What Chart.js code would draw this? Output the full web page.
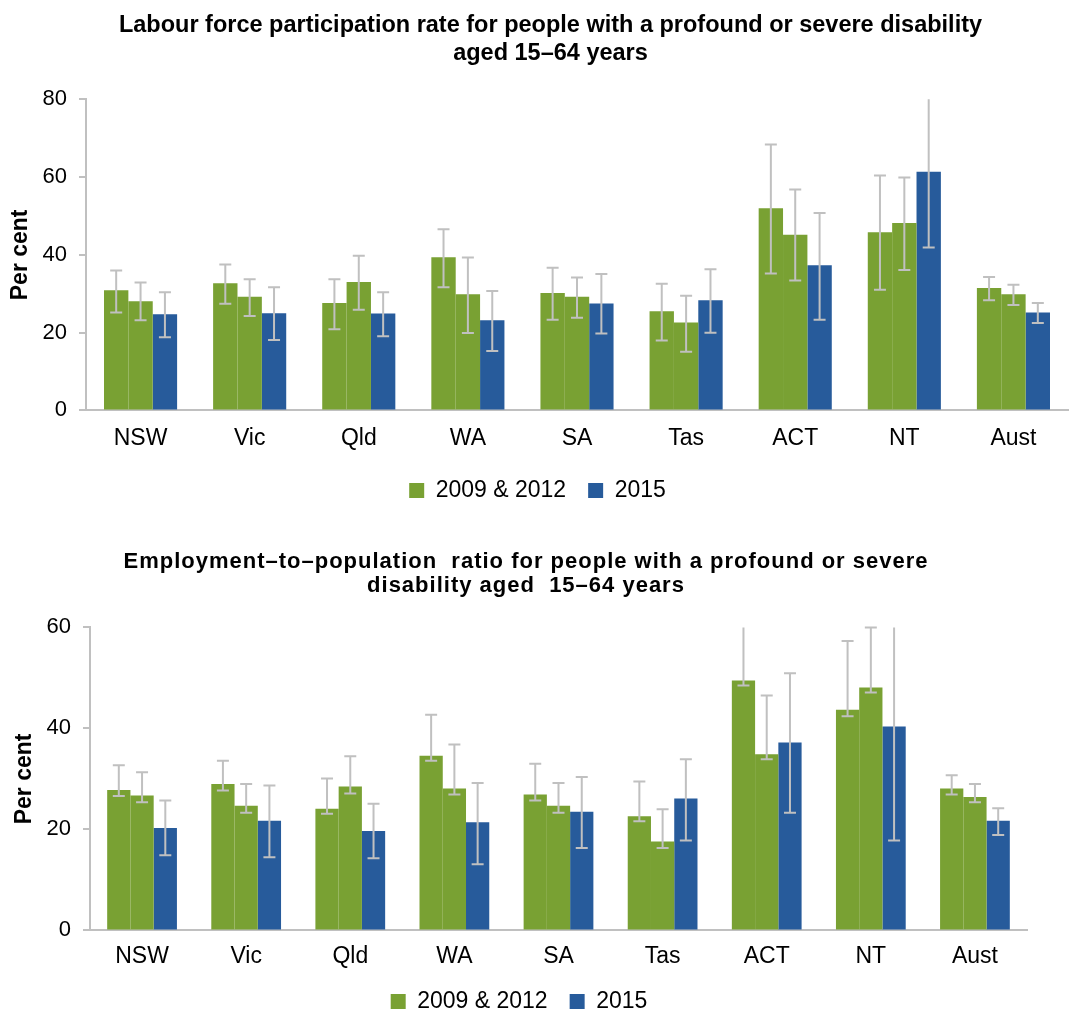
<!DOCTYPE html>
<html>
<head>
<meta charset="utf-8">
<script src="https://cdn.jsdelivr.net/npm/chart.js@4.4.1/dist/chart.umd.min.js"></script>
<style>
  body { margin: 0; background: #fff; overflow: hidden; }
  .box { position: absolute; left: 0; width: 1070px; }
  #box1 { top: 0; height: 524px; }
  #box2 { top: 520px; height: 517px; }
</style>
</head>
<body>
<div class="box" id="box1"><canvas id="chart1"></canvas></div>
<div class="box" id="box2"><canvas id="chart2"></canvas></div>
<script>
const states = ["NSW", "Vic", "Qld", "WA", "SA", "Tas", "ACT", "NT", "Aust"];
const legendLabels = ["2009 & 2012", "2015"];

// labour force participation rate (top chart)
const lfp2009 = [30.9, 32.7, 27.6, 39.4, 30.2, 25.5, 52.0, 45.8, 31.5];
const lfp2009Lo = [25.2, 27.4, 20.9, 31.7, 23.3, 18.0, 35.2, 31.0, 28.3];
const lfp2009Hi = [36.0, 37.5, 33.7, 46.6, 36.7, 32.6, 68.4, 60.4, 34.3];
const lfp2012 = [28.1, 29.2, 33.0, 29.9, 29.2, 22.6, 45.2, 48.2, 29.9];
const lfp2012Lo = [23.2, 24.3, 25.9, 19.9, 23.8, 15.1, 33.4, 36.1, 27.1];
const lfp2012Hi = [32.9, 33.7, 39.8, 39.3, 34.2, 29.5, 56.8, 59.9, 32.3];
const lfp2015 = [24.7, 25.0, 24.9, 23.2, 27.5, 28.3, 37.3, 61.4, 25.2];
const lfp2015Lo = [18.8, 18.1, 19.1, 15.3, 19.8, 20.0, 23.3, 41.9, 22.5];
const lfp2015Hi = [30.4, 31.7, 30.4, 30.7, 35.1, 36.3, 50.8, 81.0, 27.6];

// employment-to-population ratio (bottom chart)
const emp2009 = [27.8, 29.0, 24.1, 34.6, 26.9, 22.6, 49.5, 43.7, 28.1];
const emp2009Lo = [26.6, 27.7, 23.1, 33.6, 25.7, 21.6, 48.5, 42.4, 26.9];
const emp2009Hi = [32.7, 33.6, 30.1, 42.7, 33.0, 29.5, 63.0, 57.3, 30.7];
const emp2012 = [26.7, 24.7, 28.5, 28.1, 24.7, 17.6, 34.9, 48.1, 26.4];
const emp2012Lo = [25.4, 23.3, 27.1, 26.9, 23.3, 16.3, 33.9, 47.1, 25.4];
const emp2012Hi = [31.3, 29.0, 34.5, 36.8, 29.2, 24.0, 46.5, 60.0, 29.0];
const emp2015 = [20.3, 21.7, 19.7, 21.4, 23.5, 26.1, 37.2, 40.4, 21.7];
const emp2015Lo = [14.9, 14.5, 14.3, 13.1, 16.3, 17.8, 23.3, 17.8, 18.9];
const emp2015Hi = [25.7, 28.7, 25.1, 29.2, 30.4, 33.9, 50.9, 63.0, 24.2];

const green = "#79a133";
const blue = "#275b9b";
const grey = "#c0c0c0";

Chart.defaults.font.family = "'Liberation Sans', Arial, sans-serif";
Chart.defaults.color = "#000";

// draws the grey error bars from the lo/hi arrays stored on each dataset
const errorBars = {
  id: "errorBars",
  afterDatasetsDraw(chart) {
    const ctx = chart.ctx;
    const yScale = chart.scales.y;
    const area = chart.chartArea;
    ctx.save();
    ctx.strokeStyle = grey;
    ctx.lineWidth = 2;
    chart.data.datasets.forEach((ds, i) => {
      const meta = chart.getDatasetMeta(i);
      meta.data.forEach((bar, j) => {
        let yHi = yScale.getPixelForValue(ds.hi[j]);
        const yLo = yScale.getPixelForValue(ds.lo[j]);
        const clipped = yHi < area.top;
        if (clipped) yHi = area.top;
        ctx.beginPath();
        ctx.moveTo(bar.x, yHi);
        ctx.lineTo(bar.x, yLo);
        if (!clipped) {
          ctx.moveTo(bar.x - 6, yHi);
          ctx.lineTo(bar.x + 6, yHi);
        }
        ctx.moveTo(bar.x - 6, yLo);
        ctx.lineTo(bar.x + 6, yLo);
        ctx.stroke();
      });
    });
    ctx.restore();
  }
};

// wrap a layout box's draw so it can be nudged (and letter-spaced)
function nudge(chart, box, dx, dy, spacing) {
  const draw = box.draw;
  box.draw = function () {
    const ctx = chart.ctx;
    ctx.save();
    ctx.translate(dx, dy);
    ctx.letterSpacing = spacing || "0px";
    draw.apply(this, arguments);
    ctx.restore();
    ctx.letterSpacing = "0px";
  };
}

function makeChart(id, title, series, yMax, opt) {
  const chart = new Chart(document.getElementById(id), {
    type: "bar",
    data: {
      labels: states,
      datasets: [
        { label: legendLabels[0], data: series[0][0], lo: series[0][1], hi: series[0][2], backgroundColor: green },
        { label: legendLabels[0], data: series[1][0], lo: series[1][1], hi: series[1][2], backgroundColor: green },
        { label: legendLabels[1], data: series[2][0], lo: series[2][1], hi: series[2][2], backgroundColor: blue },
      ],
    },
    options: {
      responsive: true,
      maintainAspectRatio: false,
      animation: false,
      layout: { padding: opt.padding },
      datasets: { bar: { categoryPercentage: 0.67, barPercentage: 1 } },
      plugins: {
        tooltip: { enabled: false },
        title: {
          display: true,
          text: title,
          font: { size: opt.titleSize, weight: "bold", lineHeight: opt.titleLine },
          padding: opt.titlePad,
        },
        legend: {
          position: "bottom",
          labels: {
            font: { size: 23 },
            boxWidth: 15,
            boxHeight: 15,
            padding: 22,
            filter: (item) => item.datasetIndex !== 1,
          },
        },
      },
      scales: {
        x: {
          grid: { display: false, drawTicks: false },
          border: { color: grey, width: 2 },
          ticks: { font: { size: 23 }, padding: opt.xPad },
        },
        y: {
          min: 0,
          max: yMax,
          afterFit: (s) => { s.width = opt.yWidth; },
          grid: { drawOnChartArea: false, tickLength: 7, color: grey, lineWidth: 2 },
          border: { color: grey, width: 2 },
          ticks: { stepSize: 20, font: { size: 22 }, padding: 12 },
          title: { display: true, text: "Per cent", font: { size: 23, weight: "bold" }, padding: 0 },
        },
      },
    },
    plugins: [errorBars],
  });
  nudge(chart, chart.titleBlock, opt.titleShift, 0, opt.titleSpacing);
  nudge(chart, chart.legend, 0, opt.legendShift);
  chart.draw();
  return chart;
}

makeChart("chart1",
  ["Labour force participation rate for people with a profound or severe disability", "aged 15\u201364 years"],
  [[lfp2009, lfp2009Lo, lfp2009Hi], [lfp2012, lfp2012Lo, lfp2012Hi], [lfp2015, lfp2015Lo, lfp2015Hi]],
  80,
  { padding: { left: 7, right: 2, bottom: 3 }, titleSize: 23.5, titleLine: 1.22, titlePad: { top: 11, bottom: 31 },
    titleShift: 13, legendShift: -9, xPad: 14, yWidth: 79 });

makeChart("chart2",
  ["Employment\u2013to\u2013population  ratio for people with a profound or severe", "disability aged  15\u201364 years"],
  [[emp2009, emp2009Lo, emp2009Hi], [emp2012, emp2012Lo, emp2012Hi], [emp2015, emp2015Lo, emp2015Hi]],
  60,
  { padding: { left: 11, right: 43, bottom: 0 }, titleSize: 22, titleLine: 1.1, titlePad: { top: 30, bottom: 29 },
    titleShift: 7, titleSpacing: "1px", legendShift: -14, xPad: 12, yWidth: 79 });
</script>
</body>
</html>
